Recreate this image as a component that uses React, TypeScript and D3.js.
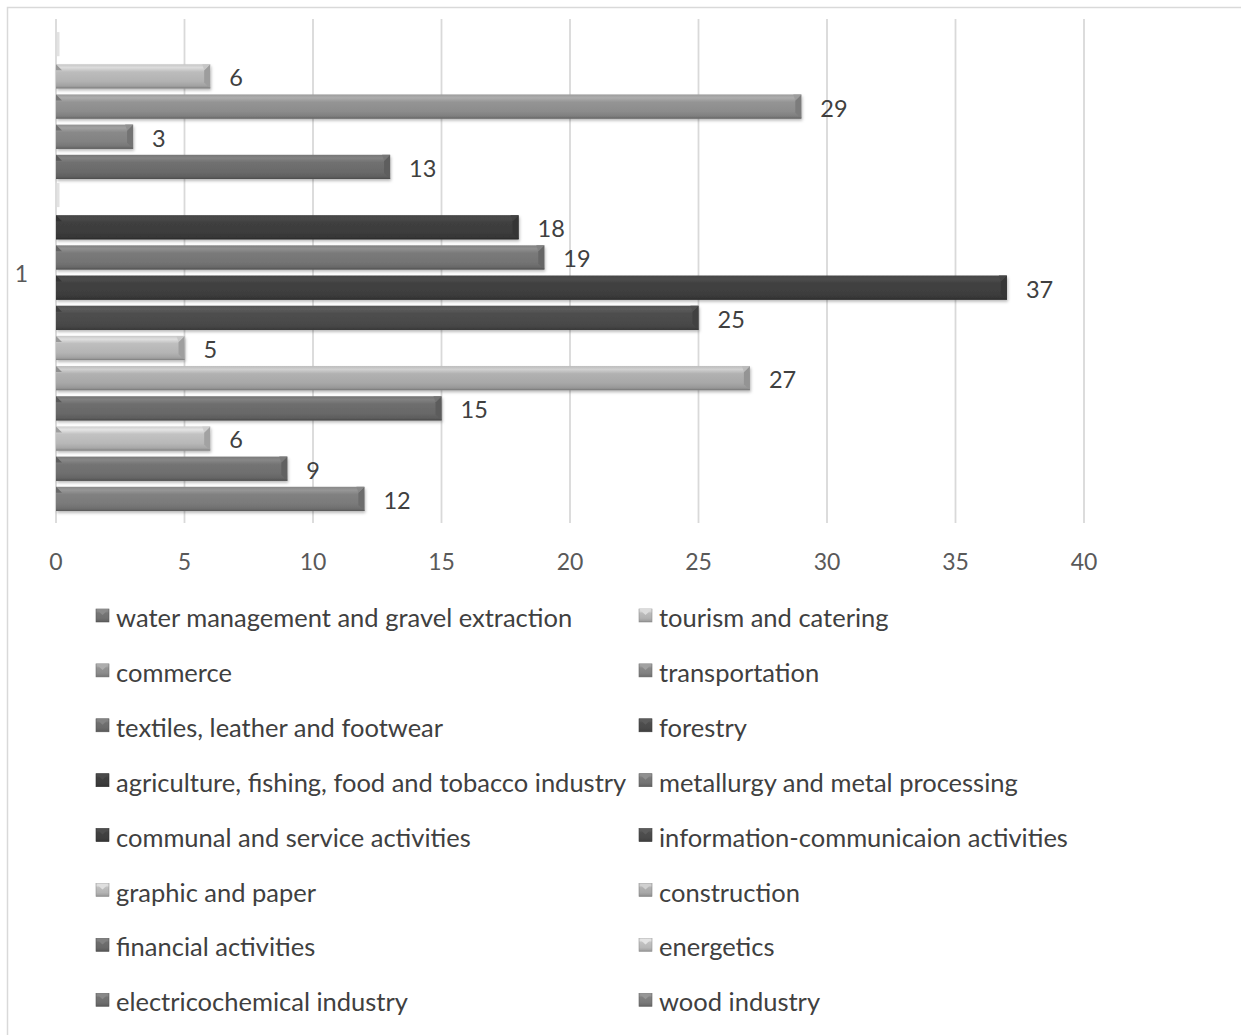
import React from "react";
import * as d3 from "d3";

const seriesNames = [
  "water management and gravel extraction",
  "tourism and catering",
  "commerce",
  "transportation",
  "textiles, leather and footwear",
  "forestry",
  "agriculture, fishing, food and tobacco industry",
  "metallurgy and metal processing",
  "communal and service activities",
  "information-communicaion activities",
  "graphic and paper",
  "construction",
  "financial activities",
  "energetics",
  "electricochemical industry",
  "wood industry",
];
const seriesValues = [0, 6, 29, 3, 13, 0, 18, 19, 37, 25, 5, 27, 15, 6, 9, 12];
const seriesColors = [
  "#707070", "#b2b2b2", "#8c8c8c", "#828282", "#6a6a6a", "#4a4a4a",
  "#3c3c3c", "#747474", "#3e3e3e", "#4a4a4a", "#b4b4b4", "#a8a8a8",
  "#686868", "#b8b8b8", "#6e6e6e", "#7a7a7a",
];
const categories = ["1"];
const xTicks = [0, 5, 10, 15, 20, 25, 30, 35, 40];

const W = 1241;
const H = 1035;
const FONT = "Lato, 'Open Sans', sans-serif";

export default function App() {
  const x = d3.scaleLinear().domain([0, 40]).range([56, 1084]);
  const y = d3
    .scaleBand<number>()
    .domain(d3.range(seriesNames.length))
    .range([22, 523])
    .paddingInner(0.2)
    .paddingOuter(0.4);
  const catY = d3.scaleBand<string>().domain(categories).range([19, 523]);
  const bw = y.bandwidth();

  const lighten = (c: string, k: number) => d3.color(c)!.brighter(k).formatHex();
  const darken = (c: string, k: number) => d3.color(c)!.darker(k).formatHex();

  const legendRowY = (i: number) => 617 + Math.floor(i / 2) * 54.9;
  const legendColX = (i: number) => (i % 2 === 0 ? 96 : 639);

  return (
    <svg
      width={W}
      height={H}
      style={{ position: "absolute", left: 0, top: 0, background: "#fff" }}
      fontFamily={FONT}
    >
      <defs>
        {seriesColors.map((c, i) => (
          <linearGradient key={i} id={`g${i}`} x1="0" y1="0" x2="0" y2="1">
            <stop offset="0" stopColor={lighten(c, 0.3)} />
            <stop offset="0.14" stopColor={lighten(c, 0.6)} />
            <stop offset="0.32" stopColor={lighten(c, 0.15)} />
            <stop offset="0.7" stopColor={c} />
            <stop offset="0.88" stopColor={darken(c, 0.25)} />
            <stop offset="1" stopColor={darken(c, 0.7)} />
          </linearGradient>
        ))}
        <filter id="sh" x="-5%" y="-30%" width="110%" height="180%">
          <feDropShadow dx="1" dy="2" stdDeviation="1.5" floodColor="#000" floodOpacity="0.28" />
        </filter>
      </defs>
      <rect x={7.5} y={7.5} width={W + 20} height={H + 20} fill="#fff" stroke="#d9d9d9" strokeWidth={1.5} />

      {/* gridlines */}
      {xTicks.map((t) => (
        <line key={t} x1={x(t)} x2={x(t)} y1={19} y2={523} stroke="#d9d9d9" strokeWidth={1.8} />
      ))}

      {/* bars */}
      {seriesValues.map((v, i) => {
        const y0 = y(i)!;
        const x0 = x(0);
        if (v === 0) {
          return <rect key={i} x={x0 + 1} y={y0 - 2} width={2.5} height={bw} fill="#e2e2e2" />;
        }
        const x1 = x(v);
        const c = seriesColors[i];
        const b = 6;
        return (
          <g key={i}>
            <rect x={x0} y={y0} width={x1 - x0} height={bw} fill={`url(#g${i})`} filter="url(#sh)" />
            <polygon
              points={`${x1 - b},${y0 + b} ${x1},${y0} ${x1},${y0 + bw} ${x1 - b},${y0 + bw - b}`}
              fill={darken(c, 0.35)}
            />
            <polygon
              points={`${x1 - b},${y0 + b} ${x1},${y0} ${x1 - b - 2},${y0}`}
              fill={lighten(c, 0.3)}
            />
            <polygon points={`${x0},${y0} ${x0 + b},${y0 + b} ${x0},${y0 + b}`} fill={darken(c, 0.45)} />
            <line x1={x0} x2={x1} y1={y0 + bw - 0.5} y2={y0 + bw - 0.5} stroke={darken(c, 0.8)} strokeWidth={1} />
          </g>
        );
      })}

      {/* data labels */}
      {seriesValues.map((v, i) =>
        v === 0 ? null : (
          <text
            key={i}
            x={x(v) + 19}
            y={y(i)! + bw / 2 + 1}
            dominantBaseline="central"
            fontSize={23.5}
            fill="#404040"
          >
            {v}
          </text>
        )
      )}

      {/* category label */}
      {categories.map((c) => (
        <text
          key={c}
          x={28}
          y={catY(c)! + catY.bandwidth() / 2 + 2}
          textAnchor="end"
          dominantBaseline="central"
          fontSize={23}
          fill="#595959"
        >
          {c}
        </text>
      ))}

      {/* x tick labels */}
      {xTicks.map((t) => (
        <text key={t} x={x(t)} y={561} textAnchor="middle" dominantBaseline="central" fontSize={23} fill="#595959">
          {t}
        </text>
      ))}

      {/* legend */}
      {seriesNames.map((n, i) => {
        const lx = legendColX(i);
        const ly = legendRowY(i);
        const c = seriesColors[i];
        return (
          <g key={n}>
            <rect x={lx} y={ly - 8} width={13} height={13} fill={`url(#g${i})`} stroke={darken(c, 0.6)} strokeWidth={0.6} />
            <polygon points={`${lx},${ly - 8} ${lx + 13},${ly - 8} ${lx + 6.5},${ly - 2}`} fill={lighten(c, 0.6)} />
            <text x={lx + 20} y={ly} dominantBaseline="central" fontSize={25.5} fill="#404040">
              {n}
            </text>
          </g>
        );
      })}
    </svg>
  );
}
